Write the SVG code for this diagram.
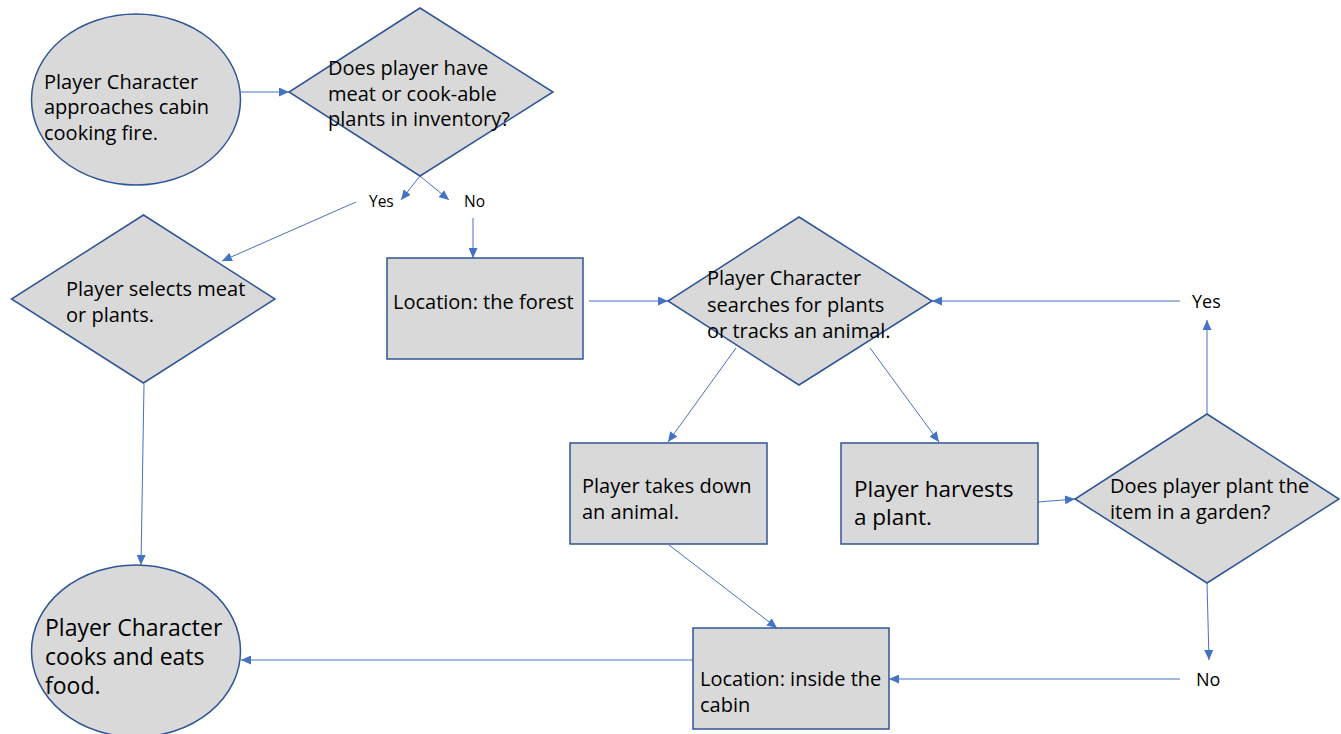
<svg xmlns="http://www.w3.org/2000/svg" width="1341" height="734" viewBox="0 0 1341 734">
<style>
.node{fill:#d9d9d9;stroke:#2f5597;stroke-width:1.5}
.conn{stroke:#4472c4;stroke-width:1;fill:none;marker-end:url(#arr)}
text{font-family:"Open Sans","Liberation Sans",sans-serif;fill:#000}
.t20{font-size:20px}
.t23{font-size:23px}
.t22{font-size:22.5px}
.lbl{font-size:15.5px}
.lbl2{font-size:18px}
</style>
<defs>
<marker id="arr" markerUnits="userSpaceOnUse" markerWidth="11" markerHeight="9" refX="10" refY="4.5" orient="auto">
<path d="M0,0 L10,4.5 L0,9 z" fill="#4472c4"/>
</marker>
</defs>
<rect width="1341" height="734" fill="#ffffff"/>
<g id="connectors">
<line class="conn" x1="241" y1="92" x2="289" y2="92"/>
<line class="conn" x1="420" y1="176" x2="401" y2="200"/>
<line class="conn" x1="420" y1="176" x2="449" y2="200"/>
<line class="conn" x1="356" y1="202" x2="222" y2="261"/>
<line class="conn" x1="473" y1="218" x2="473" y2="258"/>
<line class="conn" x1="589" y1="301" x2="668" y2="301"/>
<line class="conn" x1="1180" y1="301" x2="932" y2="301"/>
<line class="conn" x1="736" y1="348" x2="668" y2="442"/>
<line class="conn" x1="870" y1="348" x2="939" y2="442"/>
<line class="conn" x1="1038" y1="502" x2="1075" y2="499"/>
<line class="conn" x1="1207" y1="414" x2="1207" y2="320"/>
<line class="conn" x1="1207" y1="583" x2="1209" y2="660"/>
<line class="conn" x1="1180" y1="679" x2="889" y2="679"/>
<line class="conn" x1="669" y1="545" x2="777" y2="628"/>
<line class="conn" x1="693" y1="660" x2="241" y2="660"/>
<line class="conn" x1="144" y1="384" x2="141" y2="565"/>
</g>
<g id="labels">
<text class="lbl" x="369" y="207">Yes</text>
<text class="lbl" x="464" y="207">No</text>
<text class="lbl2" x="1192" y="308">Yes</text>
<text class="lbl2" x="1196" y="686">No</text>
</g>
<g id="start">
<ellipse class="node" cx="136" cy="99.5" rx="104.5" ry="85.5"/>
<text class="t20" x="44"><tspan x="44" y="89">Player Character</tspan><tspan x="44" y="114">approaches cabin</tspan><tspan x="44" y="140">cooking fire.</tspan></text>
</g>
<g id="has-food">
<polygon class="node" points="420,8 553,92 420,176 289,92"/>
<text class="t20"><tspan x="328" y="75">Does player have</tspan><tspan x="328" y="101">meat or cook-able</tspan><tspan x="328" y="126">plants in inventory?</tspan></text>
</g>
<g id="select">
<polygon class="node" points="143.5,215 275,299 143.5,383 11.5,299"/>
<text class="t20"><tspan x="66" y="296">Player selects meat</tspan><tspan x="66" y="322">or plants.</tspan></text>
</g>
<g id="forest">
<rect class="node" x="387" y="258" width="196" height="101"/>
<text class="t20" x="393" y="309">Location: the forest</text>
</g>
<g id="search">
<polygon class="node" points="799,217 932,301 799,385 668,301"/>
<text class="t20"><tspan x="707" y="285">Player Character</tspan><tspan x="707" y="312">searches for plants</tspan><tspan x="707" y="338">or tracks an animal.</tspan></text>
</g>
<g id="takedown">
<rect class="node" x="570" y="443" width="197" height="101"/>
<text class="t20"><tspan x="582" y="493">Player takes down</tspan><tspan x="582" y="519">an animal.</tspan></text>
</g>
<g id="harvest">
<rect class="node" x="841" y="443" width="197" height="101"/>
<text class="t22"><tspan x="854" y="497">Player harvests</tspan><tspan x="854" y="525">a plant.</tspan></text>
</g>
<g id="plant">
<polygon class="node" points="1207,414 1339,499 1207,583 1075,499"/>
<text class="t20"><tspan x="1110" y="493">Does player plant the</tspan><tspan x="1110" y="519">item in a garden?</tspan></text>
</g>
<g id="cabin">
<rect class="node" x="693" y="628" width="196" height="101"/>
<text class="t20"><tspan x="700" y="686">Location: inside the</tspan><tspan x="700" y="712">cabin</tspan></text>
</g>
<g id="eat">
<ellipse class="node" cx="136" cy="651" rx="104.5" ry="86"/>
<text class="t23"><tspan x="45" y="636">Player Character</tspan><tspan x="45" y="665">cooks and eats</tspan><tspan x="45" y="694">food.</tspan></text>
</g>
</svg>
